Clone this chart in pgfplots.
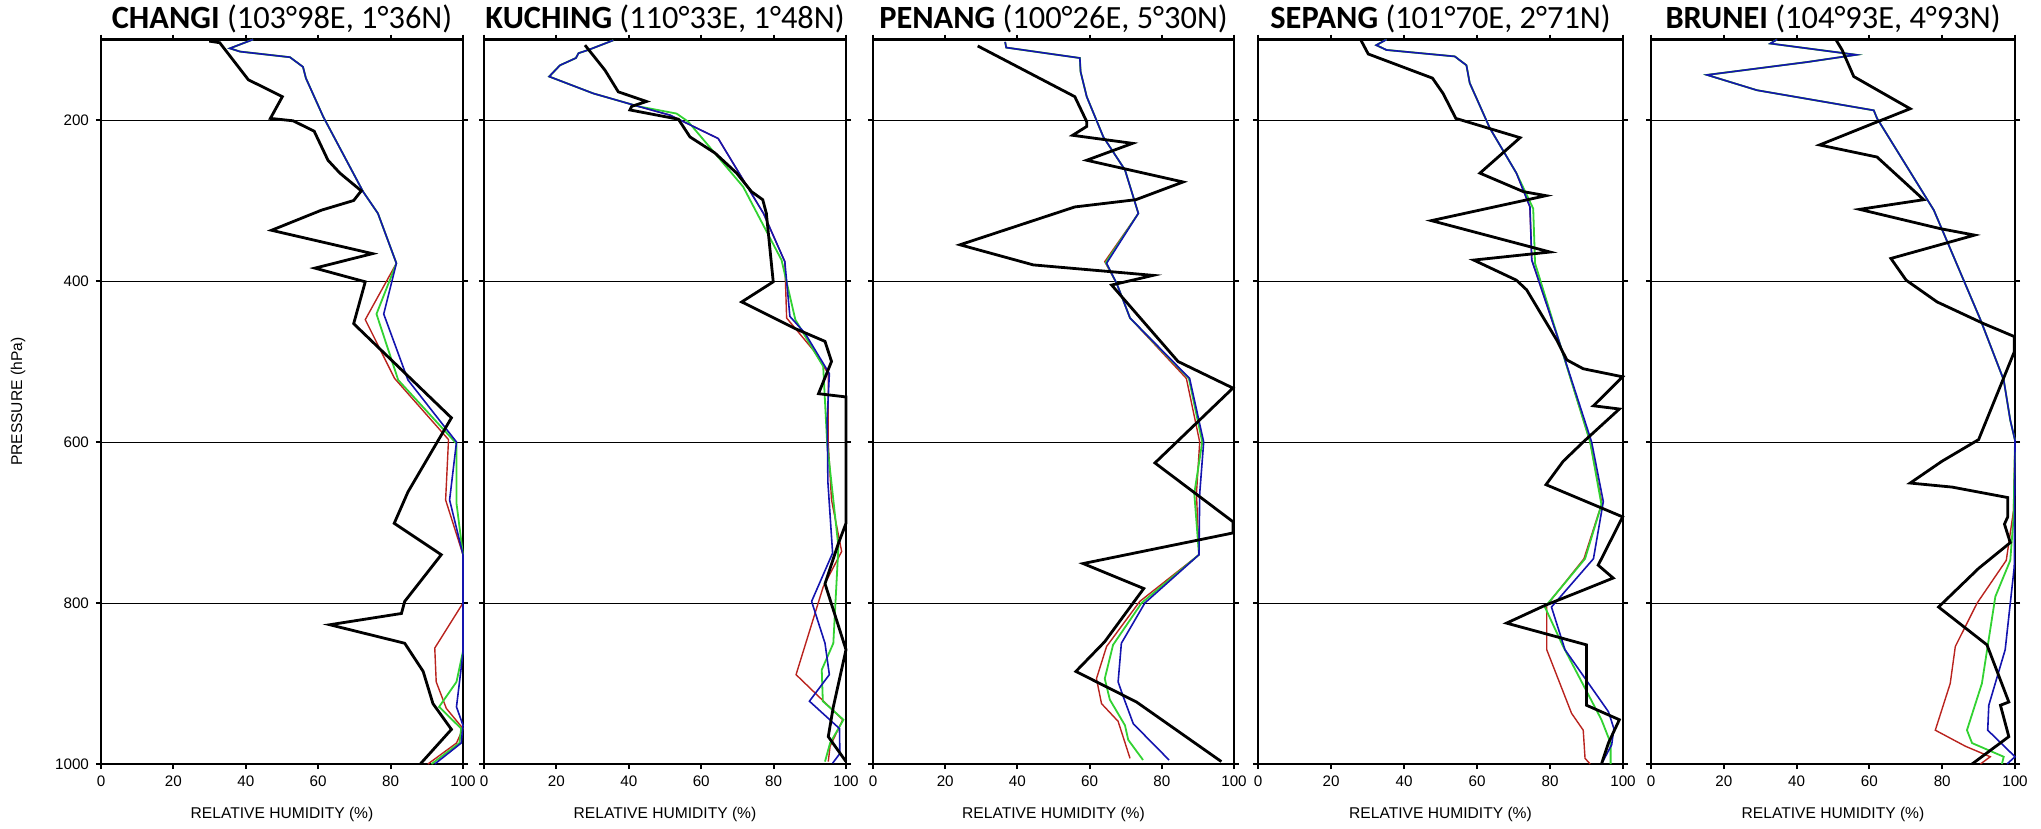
\documentclass[border=0pt]{standalone}
\usepackage{fontspec}
\setmainfont{Liberation Sans}
\newfontfamily\titlefont{Carlito}
\usepackage{pgfplots}
\pgfplotsset{compat=1.18}

\definecolor{rhred}{RGB}{185,35,30}
\definecolor{rhgreen}{RGB}{50,210,50}
\definecolor{rhblue}{RGB}{20,20,175}

\pgfplotsset{
  rhpanel/.style={
    scale only axis,
    height=362.25pt,
    xmin=0, xmax=100, ymin=100, ymax=1000,
    y dir=reverse,
    xtick={0,20,40,60,80,100},
    ytick={200,400,600,800,1000},
    tick align=outside,
    major tick length=2.5pt,
    tick style={black, line width=1pt},
    axis line style={line width=1.4pt},
    ymajorgrids,
    grid style={black, line width=0.5pt},
    ticklabel style={font=\fontsize{7.6}{9}\selectfont},
    /pgf/number format/assume math mode=true,
    /pgf/number format/1000 sep={},
    xlabel={RELATIVE HUMIDITY (\%)},
    xlabel style={font=\fontsize{7.8}{9}\selectfont, at={(axis description cs:0.5,0)}, anchor=center, yshift=-25pt},
    title style={font=\titlefont\fontsize{16.2}{18}\selectfont, at={(axis description cs:0.5,1)}, anchor=base, yshift=-0.5pt},
    clip=false,
  },
  obs/.style={black, line width=1.4pt, line join=miter},
  mred/.style={rhred, line width=0.7pt},
  mgreen/.style={rhgreen, line width=0.9pt},
  mblue/.style={rhblue, line width=0.8pt},
}

\begin{document}
\begin{tikzpicture}
\useasboundingbox (-50.5pt,-32.5pt) rectangle (970pt,382pt);

% CHANGI
\begin{axis}[rhpanel, at={(0pt,0pt)}, anchor=south west, width=181pt,
  title={\textbf{CHANGI} (103°98E, 1°36N)},
  ylabel={PRESSURE (hPa)},
  ylabel style={font=\fontsize{7.8}{9}\selectfont, at={(axis description cs:0,0.5)}, anchor=center, yshift=41.5pt}]
\addplot[mred] coordinates {(42,100) (35.6,111) (38.4,115) (52.2,122) (55.8,134) (56.6,148) (61.4,196) (72.4,289) (76.5,316) (81.6,378) (73,448) (81.1,521) (96,597) (95.2,672) (100,740) (100,800) (92.2,856) (92.6,898) (95.4,931) (100,956) (98.2,974) (90.3,1000)};
\addplot[mgreen] coordinates {(42,100) (35.6,111) (38.4,115) (52.2,122) (55.8,134) (56.6,148) (61.4,196) (72.4,289) (76.5,316) (81.6,378) (76.1,441) (82.1,523) (98.2,602) (98.2,676) (100,740) (100,860) (98.2,898) (93.4,929) (99.5,956) (99,974) (91.3,1000)};
\addplot[mblue] coordinates {(42,100) (35.6,111) (38.4,115) (52.2,122) (55.8,134) (56.6,148) (61.4,196) (72.4,289) (76.5,316) (81.6,378) (78.1,441) (84.8,523) (98.2,600) (96.3,672) (100,740) (100,862) (98.2,929) (100,952) (99.5,974) (92.2,1000)};
\addplot[obs] coordinates {(29.9,102) (32.8,104) (40.7,150) (50.1,171) (46.8,198) (53.1,201) (58.9,214) (62.7,250) (66,266) (71.9,288) (69.8,300) (60.9,312) (47.1,337) (75,366) (59.1,384) (73,401) (69.8,453) (96.8,570) (84.8,662) (81,701) (94,740) (83.9,798) (83,813) (63.2,827) (83.9,850) (89,885) (91.7,925) (96.8,957) (88.2,1000)};
\end{axis}

% KUCHING
\begin{axis}[rhpanel, at={(191.5pt,0pt)}, anchor=south west, width=181pt,
  yticklabels={}, title={\textbf{KUCHING} (110°33E, 1°48N)}]
\addplot[mred] coordinates {(35.7,101) (28.8,113) (26.1,117) (25.4,123) (21,132) (18,146) (30.2,167) (42.6,183) (51.4,194) (56,204) (64.7,223) (77.2,316) (83.1,376) (83.6,446) (91,486) (95.1,515) (95.1,602) (96,672) (98.8,736) (93.7,780) (86.2,889) (99.1,945) (95.6,978) (95.1,997)};
\addplot[mgreen] coordinates {(35.7,101) (28.8,113) (26.1,117) (25.4,123) (21,132) (18,146) (30.2,167) (42.6,183) (53.2,192) (56.4,202) (71.6,283) (82.2,374) (86,448) (93.7,506) (94.8,602) (96.5,672) (97.9,730) (96.5,850) (93.3,883) (93.6,922) (99.3,945) (95.6,974) (94.2,997)};
\addplot[mblue] coordinates {(35.7,101) (28.8,113) (26.1,117) (25.4,123) (21,132) (18,146) (30.2,167) (42.6,183) (51.4,194) (56,204) (64.7,223) (77.2,316) (83.1,376) (84.5,444) (88.7,465) (95.4,515) (94.8,572) (95,650) (96.3,738) (90.5,798) (94.2,850) (95.4,889) (89.9,922) (98.2,956) (98.3,987) (96.3,999)};
\addplot[obs] coordinates {(27.9,107) (33.4,138) (37.1,165) (44.9,177) (40.8,183) (40.3,187.5) (53.7,199) (56.9,221) (63.8,241) (69.8,266) (73.9,289) (77,299) (78,316) (79.9,401) (71.2,426) (85.9,459) (94.2,475) (96,500) (92.4,540) (100,544) (100,701) (97.9,726) (94.2,776) (100,858) (96.5,929) (95.1,966) (100,997)};
\end{axis}

% PENANG
\begin{axis}[rhpanel, at={(386pt,0pt)}, anchor=south west, width=180.5pt,
  yticklabels={}, title={\textbf{PENANG} (100°26E, 5°30N)}]
\addplot[mred] coordinates {(36.6,103) (36.9,110) (57.3,123) (57.5,140) (59.2,171) (63.8,221) (69.8,262) (73.5,316) (64.2,376) (67.5,403) (71.2,446) (86.8,521) (90.5,600) (89.6,664) (90.3,740) (73.9,798) (64.7,854) (61.9,894) (63.3,925) (67.9,947) (71.2,993)};
\addplot[mgreen] coordinates {(36.6,103) (36.9,110) (57.3,123) (57.5,140) (59.2,171) (63.8,221) (69.8,262) (73.5,316) (64.5,377) (67.5,403) (71.2,446) (87.5,521) (91.2,600) (89,664) (90.3,740) (74.4,800) (66.5,852) (64.2,894) (65.6,920) (69.8,952) (70.7,970) (74.8,995)};
\addplot[mblue] coordinates {(36.6,103) (36.9,110) (57.3,123) (57.5,140) (59.2,171) (63.8,221) (69.8,262) (73.5,316) (64.7,378) (67.5,403) (71.2,446) (87.7,521) (91.6,600) (90.5,664) (90.3,740) (75.3,800) (68.8,850) (67.9,898) (69.3,916) (72.1,950) (82,995)};
\addplot[obs] coordinates {(29,108) (55.9,171) (59.2,202) (59.2,208) (55.3,219) (71.9,229) (59.2,250) (85.9,277) (72.8,299) (55.9,308) (24.1,355) (44.4,380) (77.6,393) (66.1,405) (84.5,500) (99.7,533) (78.1,626) (99.7,699) (99.7,713) (58.2,751) (75,782) (64.2,848) (56.2,885) (73,923) (96.5,997)};
\end{axis}

% SEPANG
\begin{axis}[rhpanel, at={(578.5pt,0pt)}, anchor=south west, width=182.5pt,
  yticklabels={}, title={\textbf{SEPANG} (101°70E, 2°71N)}]
\addplot[mred] coordinates {(35.2,100) (32.4,107) (35.2,113) (53.9,121) (57.1,132) (58,154) (63.5,210) (70.8,266) (74.5,308) (75,374) (82.7,478) (91,600) (94.2,676) (89.3,745) (79.1,803) (79.1,858) (85.9,937) (89.1,958) (89.6,993) (91,1000)};
\addplot[mgreen] coordinates {(35.2,100) (32.4,107) (35.2,113) (53.9,121) (57.1,132) (58,154) (63.5,210) (70.8,266) (75.4,310) (75.9,378) (82.7,478) (91,600) (94.1,678) (89.6,745) (78.6,805) (83.6,854) (94.1,945) (96.6,974) (96.6,1000)};
\addplot[mblue] coordinates {(35.2,100) (32.4,107) (35.2,113) (53.9,121) (57.1,132) (58,154) (63.5,210) (70.8,266) (74.5,308) (75,374) (82.7,478) (91.4,600) (94.6,674) (91.9,745) (80.4,805) (84.1,858) (96,935) (97.5,956) (96.9,976) (94.1,1000)};
\addplot[obs] coordinates {(28.1,100) (30.2,118) (47.8,148) (50.7,167) (54.2,198) (71.8,222) (65.8,246) (60.8,266) (72.7,289) (78.9,294) (47.5,325) (80,364) (59.1,374) (70.8,399) (73.6,411) (81.8,473) (84.6,498) (89.1,509) (99.9,519) (91.9,555) (99,559) (89.1,600) (83.6,624) (78.9,653) (99.9,693) (93.2,753) (97.3,769) (89.1,784) (78.6,803) (68.1,825) (90,852) (90,927) (99,945) (96,974) (94.1,1000)};
\end{axis}

% BRUNEI
\begin{axis}[rhpanel, at={(775pt,0pt)}, anchor=south west, width=182pt,
  yticklabels={}, title={\textbf{BRUNEI} (104°93E, 4°93N)}]
\addplot[mred] coordinates {(34.6,100) (32.8,105) (56.4,119) (42.9,128) (15.4,144) (29.1,163) (61.2,188) (62.1,198) (77.7,312) (90.5,448) (96.9,523) (98.7,573) (100,598) (99.6,685) (97.6,747) (89.6,800) (83.6,854) (82.2,900) (78.1,958) (86.4,978) (93.2,991) (90.5,1000)};
\addplot[mgreen] coordinates {(34.6,100) (32.8,105) (56.4,119) (42.9,128) (15.4,144) (29.1,163) (61.2,188) (62.1,198) (77.7,312) (90.5,448) (96.9,523) (98.7,573) (100,598) (99.6,693) (98.7,747) (94.6,792) (90.9,900) (86.8,958) (88.2,974) (96.9,991) (96.4,1000)};
\addplot[mblue] coordinates {(34.6,100) (32.8,105) (56.4,119) (42.9,128) (15.4,144) (29.1,163) (61.2,188) (62.1,198) (77.7,312) (90.5,448) (96.9,523) (98.7,573) (100,598) (99.8,755) (97.3,858) (92.8,927) (92.5,958) (100,991) (97.8,1000)};
\addplot[obs] coordinates {(50.9,101) (52.5,113) (55.7,146) (71.2,186) (61.2,204) (46.3,231) (62.1,246) (74.9,299) (57.3,311) (79.5,335) (88.9,343) (65.9,372) (70.1,399) (78.6,426) (91.4,453) (99.8,469) (99.8,488) (90,597) (79.9,624) (71.2,651) (82.7,656) (98,669) (98,693) (97.1,702) (98.7,725) (90,757) (79,805) (92.3,852) (98.3,923) (96,927) (98.3,966) (88.2,1000)};
\end{axis}
\end{tikzpicture}
\end{document}
